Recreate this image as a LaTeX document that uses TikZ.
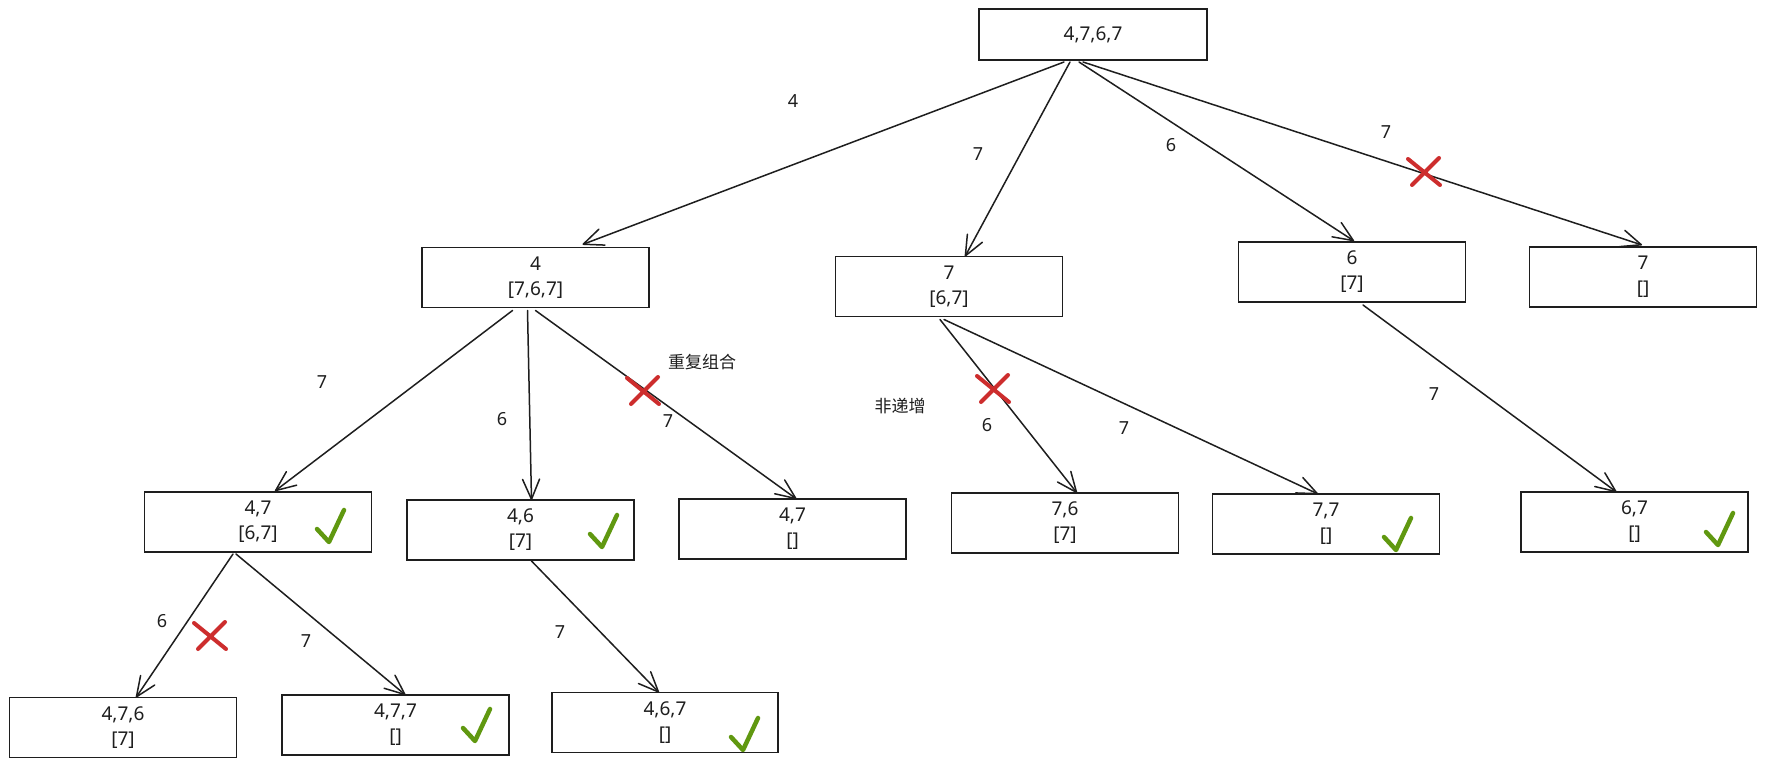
\documentclass[tikz,border=0pt]{standalone}
\usepackage{fontspec}
\setmainfont{Noto Sans}
\newfontfamily\cjkfont{Noto Sans CJK SC}
\usetikzlibrary{arrows.meta}
\definecolor{ink}{RGB}{30,30,30}
\definecolor{nored}{RGB}{205,45,45}
\definecolor{okgreen}{RGB}{96,152,16}

\begin{document}
\begin{tikzpicture}[x=1pt,y=-1pt,
  box/.style={draw=ink, line width=1.8pt, minimum width=227pt, minimum height=60pt,
    inner sep=0pt, outer sep=0pt, align=center, text=ink,
    font=\fontsize{19}{25}\selectfont},
  lbl/.style={text=ink, inner sep=0pt, font=\fontsize{18}{22}\selectfont},
  note/.style={text=ink, inner sep=0pt, font=\cjkfont\fontsize{17}{20}\selectfont},
  link/.style={draw=ink, line width=1.5pt, line cap=round,
    -{Straight Barb[length=20pt,width=17pt,round]}},
  nogood/.pic={\draw[nored, line width=4pt, line cap=round]
    (-16,-13) -- (16,13) (-12,13) -- (15,-14);},
  okmark/.pic={\draw[okgreen, line width=4.5pt, line cap=round, line join=round]
    (-12,-13) -- (0,0) -- (15,-32);},
]
\fill[white] (0,0) rectangle (1766,767);
\useasboundingbox (0,0) rectangle (1766,767);

% states: chosen prefix and remaining list
\node[box, minimum width=228pt, minimum height=51pt] (root) at (1093,34.5) {4,7,6,7};
\node[box] (A) at (535.5,277.5) {4\\{[7,6,7]}};
\node[box] (B) at (949,286.5) {7\\{[6,7]}};
\node[box] (C) at (1352,272) {6\\{[7]}};
\node[box] (D) at (1643,277) {7\\{[]}};
\node[box] (E) at (258,522) {4,7\\{[6,7]}};
\node[box] (F) at (520.5,530) {4,6\\{[7]}};
\node[box] (G) at (792.5,529) {4,7\\{[]}};
\node[box] (H) at (1065,523) {7,6\\{[7]}};
\node[box] (I) at (1326,524) {7,7\\{[]}};
\node[box] (J) at (1634.5,522) {6,7\\{[]}};
\node[box] (K) at (123,727.5) {4,7,6\\{[7]}};
\node[box] (L) at (395.5,725) {4,7,7\\{[]}};
\node[box, minimum width=226pt] (M) at (665,722.5) {4,6,7\\{[]}};

% branches
\draw[link] ([shift={(-29,2)}]root.south) -- ([shift={(47,-3)}]A.north);
\draw[link] ([shift={(-23,2)}]root.south) -- ([shift={(16,0)}]B.north);
\draw[link] ([shift={(-14,2)}]root.south) -- ([shift={(2,-1)}]C.north);
\draw[link] ([shift={(-10,2)}]root.south) -- ([shift={(-1,-2)}]D.north);
\draw[link] ([shift={(-23,3)}]A.south) -- ([shift={(17,-1)}]E.north);
\draw[link] ([shift={(-8,3)}]A.south) -- ([shift={(11,0)}]F.north);
\draw[link] ([shift={(0,3)}]A.south) -- ([shift={(4,0)}]G.north);
\draw[link] ([shift={(-9,3)}]B.south) -- ([shift={(12,0)}]H.north);
\draw[link] ([shift={(-5,3)}]B.south) -- ([shift={(-8,0)}]I.north);
\draw[link] ([shift={(11,3)}]C.south) -- ([shift={(-18,0)}]J.north);
\draw[link] ([shift={(-25,2)}]E.south) -- ([shift={(13,0)}]K.north);
\draw[link] ([shift={(-22,2)}]E.south) -- ([shift={(10,0)}]L.north);
\draw[link] ([shift={(11,1)}]F.south) -- ([shift={(-6,0)}]M.north);

% branch labels
\node[lbl] (lA) at (793,101) {4};
\node[lbl] (lB) at (978,154) {7};
\node[lbl] (lC) at (1171,145) {6};
\node[lbl] (lD) at (1386,132) {7};
\node[lbl] (lE) at (322,382) {7};
\node[lbl] (lF) at (502,419) {6};
\node[lbl] (lG) at (668,421) {7};
\node[lbl] (lH) at (987,425) {6};
\node[lbl] (lI) at (1124,428) {7};
\node[lbl] (lJ) at (1434,394) {7};
\node[lbl] (lK) at (162,621) {6};
\node[lbl] (lL) at (306,641) {7};
\node[lbl] (lM) at (560,632) {7};

% pruning notes
\node[note] (dup) at (702,362) {重复组合};
\node[note] (dec) at (900,406) {非递增};

% pruned branches
\pic at (1424,172) {nogood};
\pic at (643,391) {nogood};
\pic at (993,389) {nogood};
\pic at (210,636) {nogood};

% accepted subsets
\pic at (329,542) {okmark};
\pic at (602,547) {okmark};
\pic at (1396,550) {okmark};
\pic at (1718,545) {okmark};
\pic at (475,741) {okmark};
\pic at (743,750) {okmark};
\end{tikzpicture}
\end{document}
